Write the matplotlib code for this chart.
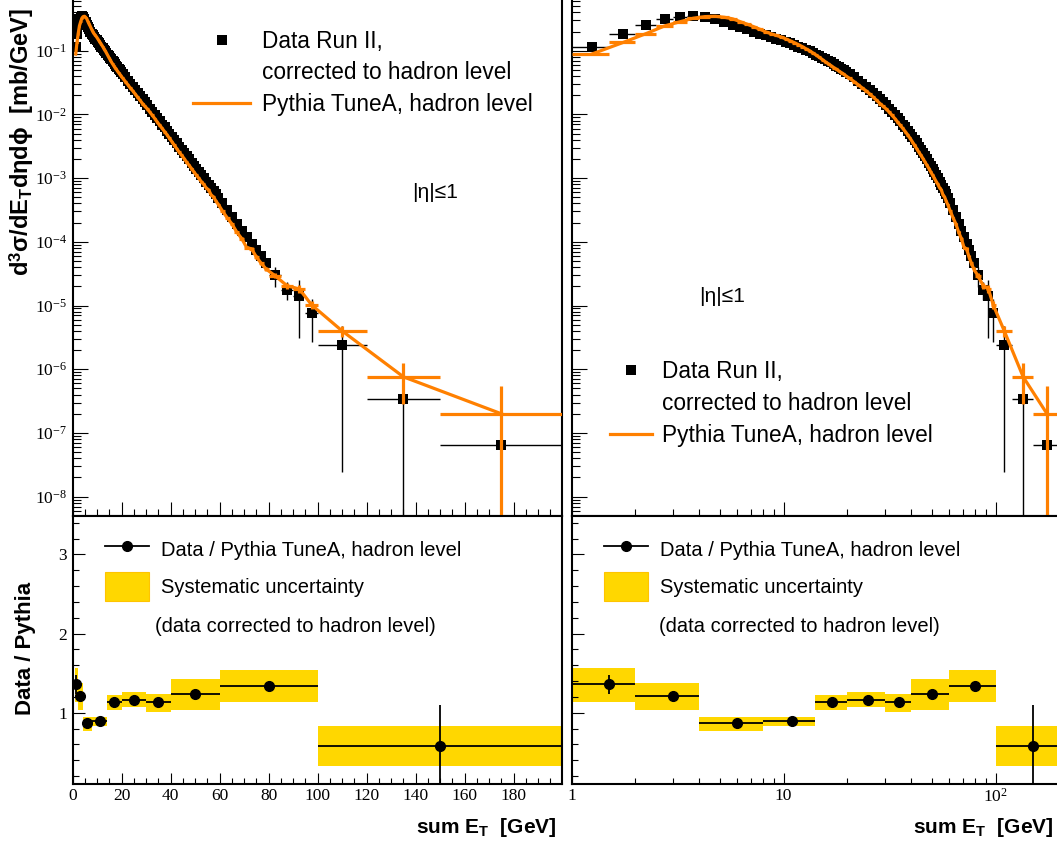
import numpy as np
import matplotlib
matplotlib.use("Agg")
import matplotlib.pyplot as plt
from matplotlib.lines import Line2D
from matplotlib.patches import Patch
from matplotlib.ticker import MultipleLocator, LogLocator, FixedLocator, NullFormatter

# ---------------- data ----------------
bin_edges = [1.0, 1.5, 2.0, 2.5, 3.0, 3.5, 4.0, 4.5, 5.0, 5.5, 6.0, 6.5, 7.0, 7.5,
             8.0, 8.5, 9.0, 9.5, 10.0, 10.5, 11.0, 11.5, 12.0, 12.5, 13.0, 13.5,
             14.0, 14.5, 15.0, 15.5, 16.0, 16.5, 17.0, 17.5, 18.0, 18.5, 19.0, 19.5,
             20.0, 21, 22, 23, 24, 25, 26, 27, 28, 29, 30, 31, 32, 33, 34, 35, 36,
             37, 38, 39, 40, 41, 42, 43, 44, 45, 46, 47, 48, 49, 50, 51, 52, 53, 54,
             55, 56, 57, 58, 59, 60, 62, 64, 66, 68, 70, 72, 74, 76, 78, 80,
             85, 90, 95, 100, 120, 150, 200]

# data, Run II corrected to hadron level (decade exponent of mb/GeV)
data_log10 = [-0.94, -0.73, -0.60, -0.51, -0.47, -0.455, -0.475, -0.51, -0.55, -0.59,
              -0.63, -0.665, -0.70, -0.735, -0.76, -0.785, -0.81, -0.835, -0.86, -0.885,
              -0.91, -0.935, -0.96, -0.985, -1.01, -1.035, -1.06, -1.085, -1.11, -1.135,
              -1.16, -1.185, -1.21, -1.235, -1.26, -1.285, -1.31, -1.335,
              -1.37, -1.42, -1.47, -1.52, -1.565, -1.615, -1.665, -1.715, -1.765, -1.81,
              -1.86, -1.91, -1.96, -2.01, -2.06, -2.11, -2.16, -2.205, -2.255, -2.305,
              -2.355, -2.405, -2.455, -2.505, -2.555, -2.605, -2.655, -2.705, -2.755, -2.805,
              -2.855, -2.905, -2.955, -3.005, -3.055, -3.105, -3.155, -3.205, -3.255, -3.305,
              -3.39, -3.50, -3.61, -3.72, -3.83, -3.93, -4.03, -4.13, -4.23, -4.33,
              -4.52, -4.75, -4.85, -5.11,
              -5.62, -6.46, -7.19]
data_relerr = [0.01] * 78 + [0.06, 0.07, 0.08, 0.09, 0.10, 0.12, 0.14, 0.16, 0.18, 0.20,
                             0.35, 0.32, 0.78, 0.66, 0.99, 1.05, 2.0]

# Pythia TuneA, hadron level
pythia_log10 = [-1.05, -0.87, -0.73, -0.61, -0.545, -0.49, -0.465, -0.46, -0.475, -0.50,
                -0.545, -0.585, -0.625, -0.665, -0.705, -0.735, -0.76, -0.785, -0.815, -0.845,
                -0.875, -0.905, -0.935, -0.97, -1.00, -1.035, -1.07, -1.105, -1.14, -1.175,
                -1.205, -1.235, -1.265, -1.29, -1.32, -1.345, -1.37, -1.40,
                -1.435, -1.485, -1.535, -1.585, -1.63, -1.68, -1.73, -1.78, -1.83, -1.875,
                -1.915, -1.965, -2.015, -2.065, -2.12, -2.17, -2.22, -2.27, -2.32, -2.375,
                -2.43, -2.485, -2.54, -2.595, -2.645, -2.695, -2.75, -2.80, -2.85, -2.905,
                -2.955, -3.005, -3.055, -3.10, -3.155, -3.185, -3.265, -3.295, -3.365, -3.415,
                -3.51, -3.62, -3.72, -3.85, -3.95, -4.09, -4.11, -4.24, -4.34, -4.43,
                -4.53, -4.69, -4.74, -4.99,
                -5.40, -6.12, -6.70]
pythia_relerr = [0.01] * 78 + [0.03, 0.03, 0.04, 0.04, 0.05, 0.05, 0.06, 0.06, 0.07, 0.07,
                               0.10, 0.12, 0.15, 0.15, 0.20, 0.63, 1.75]

# ratio Data / Pythia
ratio_edges = [1, 2, 4, 8, 14, 20, 30, 40, 60, 100, 200]
ratio_x = [1.5, 3, 6, 11, 17, 25, 35, 50, 80, 150]
ratio_val = [1.36, 1.21, 0.87, 0.89, 1.13, 1.16, 1.13, 1.24, 1.34, 0.58]
ratio_stat = [0.12, 0.03, 0.02, 0.02, 0.02, 0.02, 0.02, 0.03, 0.05, 0.52]
syst_lo = [1.14, 1.04, 0.775, 0.83, 1.04, 1.07, 1.01, 1.03, 1.135, 0.33]
syst_hi = [1.57, 1.38, 0.95, 0.95, 1.22, 1.26, 1.24, 1.43, 1.535, 0.83]

ytick_vals = [1e-8, 1e-7, 1e-6, 1e-5, 1e-4, 1e-3, 1e-2, 1e-1]
ytick_labels = ['$10^{-8}$', '$10^{-7}$', '$10^{-6}$', '$10^{-5}$',
                '$10^{-4}$', '$10^{-3}$', '$10^{-2}$', '$10^{-1}$']
logx_ticks = [1, 10, 100]
logx_labels = ['1', '10', '$10^{2}$']
ratio_ticks = [1, 2, 3]
ratio_labels = ['1', '2', '3']

# ---------------- style ----------------
plt.rcParams['font.family'] = ['Liberation Sans', 'DejaVu Sans']
plt.rcParams['mathtext.fontset'] = 'custom'
plt.rcParams['mathtext.rm'] = 'Liberation Serif'
plt.rcParams['mathtext.it'] = 'Liberation Serif:italic'
plt.rcParams['mathtext.bf'] = 'Liberation Sans:bold'

ORANGE = '#FF8000'
GOLD = '#FFD700'
SERIF = 'Liberation Serif'

edges = np.array(bin_edges, dtype=float)
centers = 0.5 * (edges[:-1] + edges[1:])
halfw = 0.5 * (edges[1:] - edges[:-1])
data_y = 10 ** np.array(data_log10)
data_err = np.array(data_relerr) * data_y
data_lo = np.minimum(data_err, data_y * (1 - 1e-6))
py_y = 10 ** np.array(pythia_log10)
py_err = np.array(pythia_relerr) * py_y
py_lo = np.minimum(py_err, py_y * (1 - 1e-6))

r_edges = np.array(ratio_edges, dtype=float)
r_left = r_edges[:-1]
r_right = r_edges[1:]
r_x = np.array(ratio_x, dtype=float)
s_lo = np.array(syst_lo)
s_hi = np.array(syst_hi)

W, H = 1057, 843
fig = plt.figure(figsize=(W / 100, H / 100), dpi=100)

def fx(px):
    return px / W

def fy(py):
    return 1 - py / H

Lx0, Lx1 = 72.7, 561.5
Rx0, Rx1 = 571.7, 1057.0
Ty0, Ty1 = 0.0, 515.7
By0, By1 = 515.7, 784.0

axTL = fig.add_axes([fx(Lx0), fy(Ty1), fx(Lx1 - Lx0), (Ty1 - Ty0) / H])
axBL = fig.add_axes([fx(Lx0), fy(By1), fx(Lx1 - Lx0), (By1 - By0) / H], sharex=axTL)
axTR = fig.add_axes([fx(Rx0), fy(Ty1), fx(Rx1 - Rx0), (Ty1 - Ty0) / H])
axBR = fig.add_axes([fx(Rx0), fy(By1), fx(Rx1 - Rx0), (By1 - By0) / H], sharex=axTR)

YMIN, YMAX = 5.02e-9, 0.625
RMIN, RMAX = 0.1, 3.49

for ax in (axTL, axTR):
    ax.set_yscale('log')
    ax.errorbar(centers, data_y, xerr=halfw, yerr=[data_lo, data_err], fmt='s',
                color='k', ms=6.5, mew=0, elinewidth=1.0, capsize=0, zorder=3)
    ax.errorbar(centers, py_y, xerr=halfw, yerr=[py_lo, py_err], fmt='-',
                color=ORANGE, lw=2.3, elinewidth=2.3, capsize=0, zorder=4)
    ax.set_ylim(YMIN, YMAX)
    ax.yaxis.set_major_locator(FixedLocator(ytick_vals))
    ax.yaxis.set_minor_locator(LogLocator(base=10, subs=np.arange(2, 10), numticks=30))
    ax.spines['top'].set_visible(False)

for ax in (axBL, axBR):
    ax.bar(r_left, s_hi - s_lo, width=r_right - r_left, bottom=s_lo, align='edge',
           color=GOLD, edgecolor='none', zorder=1)
    ax.errorbar(r_x, ratio_val, xerr=[r_x - r_left, r_right - r_x], yerr=ratio_stat,
                fmt='o', color='k', ms=7, elinewidth=1.3, capsize=0, zorder=3)
    ax.set_ylim(RMIN, RMAX)
    ax.yaxis.set_major_locator(FixedLocator(ratio_ticks))
    ax.yaxis.set_minor_locator(MultipleLocator(0.2))

# x axes
axTL.set_xlim(0, 199.5)
axTL.xaxis.set_major_locator(MultipleLocator(20))
axTL.xaxis.set_minor_locator(MultipleLocator(5))
axTR.set_xscale('log')
axTR.set_xlim(1, 195)
axTR.xaxis.set_major_locator(FixedLocator(logx_ticks))
axTR.xaxis.set_minor_locator(LogLocator(base=10, subs=np.arange(2, 10), numticks=30))
axBR.set_xticks(logx_ticks, labels=logx_labels)
axBR.xaxis.set_minor_locator(LogLocator(base=10, subs=np.arange(2, 10), numticks=30))

axTL.set_yticks(ytick_vals, labels=ytick_labels)
axTR.yaxis.set_major_formatter(NullFormatter())
axTR.yaxis.set_minor_formatter(NullFormatter())
axBL.set_yticks(ratio_ticks, labels=ratio_labels)
axBR.yaxis.set_major_formatter(NullFormatter())

for ax in (axTL, axTR, axBL, axBR):
    for s in ax.spines.values():
        s.set_linewidth(1.5)
    ax.tick_params(which='both', direction='in', top=False, right=False,
                   width=0.8, labelsize=12.5, labelfontfamily=SERIF)
for ax in (axTR, axBR):
    ax.spines['right'].set_visible(False)

for ax in (axTL, axTR):
    ax.tick_params(axis='x', which='major', length=10, labelbottom=False)
    ax.tick_params(axis='x', which='minor', length=5)
    ax.tick_params(axis='y', which='major', length=11, pad=4)
    ax.tick_params(axis='y', which='minor', length=5.8)
for ax in (axBL, axBR):
    ax.tick_params(axis='x', which='major', length=8, pad=3)
    ax.tick_params(axis='x', which='minor', length=4.3)
    ax.tick_params(axis='y', which='major', length=8.6, pad=4)
    ax.tick_params(axis='y', which='minor', length=4.3)
axTR.tick_params(axis='y', labelleft=False)
axBR.tick_params(axis='y', labelleft=False)

# axis titles
lab = axTL.set_ylabel(r'd$^{\mathbf{3}}$σ/dE$_{\mathbf{T}}$dηdϕ  [mb/GeV]',
                      fontsize=17, fontweight='bold')
lab.set_rotation_mode('default')
lab.set_horizontalalignment('center')
lab.set_verticalalignment('top')
axTL.yaxis.set_label_coords((22 - Lx0) / (Lx1 - Lx0), 1 - 8 / (Ty1 - Ty0))

lab = axBL.set_ylabel('Data / Pythia', fontsize=16, fontweight='bold')
lab.set_rotation_mode('default')
lab.set_horizontalalignment('center')
lab.set_verticalalignment('center')
axBL.yaxis.set_label_coords((26 - Lx0) / (Lx1 - Lx0), (By1 - 648) / (By1 - By0))

for ax, x0, x1, xr in ((axBL, Lx0, Lx1, 556), (axBR, Rx0, Rx1, 1053)):
    lab = ax.set_xlabel(r'sum E$_{\mathbf{T}}$  [GeV]', fontsize=15, fontweight='bold')
    lab.set_horizontalalignment('right')
    lab.set_verticalalignment('baseline')
    ax.xaxis.set_label_coords((xr - x0) / (x1 - x0), (By1 - 833) / (By1 - By0))

# |eta| annotations
axTL.text((435 - Lx0) / (Lx1 - Lx0), 1 - 192 / Ty1, '|η|≤1', transform=axTL.transAxes,
          ha='center', va='center', fontsize=15)
axTR.text((722 - Rx0) / (Rx1 - Rx0), 1 - 297 / Ty1, '|η|≤1', transform=axTR.transAxes,
          ha='center', va='center', fontsize=15)

# legends (top)
h_data = Line2D([], [], ls='none', marker='s', color='k', ms=6.5, mew=0)
h_blank = Line2D([], [], ls='none')
h_py = Line2D([], [], color=ORANGE, lw=2.3)
top_labels = ['Data Run II,', 'corrected to hadron level', 'Pythia TuneA, hadron level']

axTL.legend([h_data, h_blank, h_py], top_labels, loc='upper left',
            bbox_to_anchor=((193 - Lx0) / (Lx1 - Lx0), 1 - 30 / Ty1),
            frameon=False, fontsize=16.3, handlelength=2.52, handletextpad=0.53,
            labelspacing=0.37, borderpad=0, borderaxespad=0)
axTR.legend([h_data, h_blank, h_py], top_labels, loc='upper left',
            bbox_to_anchor=((610 - Rx0) / (Rx1 - Rx0), 1 - 360 / Ty1),
            frameon=False, fontsize=16.3, handlelength=1.86, handletextpad=0.44,
            labelspacing=0.40, borderpad=0, borderaxespad=0)

# legends (bottom)
h_ratio = Line2D([], [], color='k', marker='o', ms=7, lw=1.3)
h_syst = Patch(facecolor=GOLD, edgecolor='#FFC400', lw=0.8)
bot_labels = ['Data / Pythia TuneA, hadron level', 'Systematic uncertainty']
for ax, x0, x1, hx, tx in ((axBL, Lx0, Lx1, 105, 155), (axBR, Rx0, Rx1, 604, 659)):
    ax.legend([h_ratio, h_syst], bot_labels, loc='upper left',
              bbox_to_anchor=((hx - x0) / (x1 - x0), 1 - (535 - By0) / (By1 - By0)),
              frameon=False, fontsize=14.5, handlelength=2.19, handletextpad=0.6,
              handleheight=1.85, labelspacing=0.4, borderpad=0, borderaxespad=0)
    ax.text((tx - x0) / (x1 - x0), (By1 - 626) / (By1 - By0),
            '(data corrected to hadron level)', transform=ax.transAxes,
            ha='left', va='center', fontsize=14.5)

fig.savefig('out.png', dpi=100)
